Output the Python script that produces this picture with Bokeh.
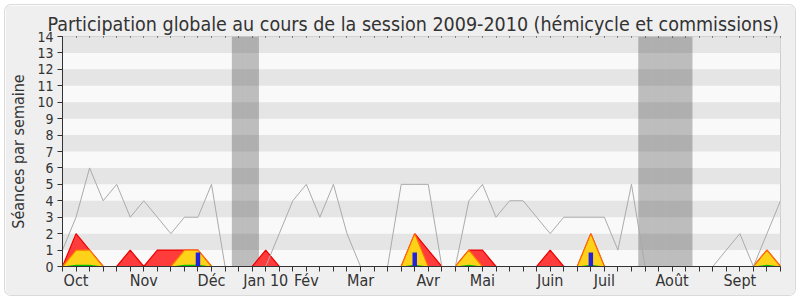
from bokeh.plotting import figure
from bokeh.models import FixedTicker, LinearAxis, BoxAnnotation, Range1d, ColumnDataSource
from bokeh.embed import file_html
from bokeh.resources import INLINE

# ---- data (one value per week, week 0 = end of Sept 2009) ----
weeks = list(range(54))
presences = [1, 3, 6, 4, 5, 3, 4, 3, 2, 3, 3, 5, 0, 0, 0, 0, 2, 4, 5, 3,
             5, 2, 0, 0, 0, 5, 5, 5, 0, 0, 4, 5, 3, 4, 4, 3, 2, 3, 3, 3,
             3, 1, 5, 0, 0, 0, 0, 0, 0, 1, 2, 0, 2, 4]
interventions = [0, 2, 1, 0, 0, 1, 0, 1, 1, 1, 1, 0, 0, 0, 0, 1, 0, 0, 0, 0,
                 0, 0, 0, 0, 0, 0, 2, 1, 0, 0, 1, 1, 0, 0, 0, 0, 1, 0, 0, 2,
                 0, 0, 0, 0, 0, 0, 0, 0, 0, 0, 0, 0, 1, 0]
hemicycle = [0, 1, 1, 0, 0, 0, 0, 0, 0, 1, 1, 0, 0, 0, 0, 0, 0, 0, 0, 0,
             0, 0, 0, 0, 0, 0, 2, 0, 0, 0, 1, 0, 0, 0, 0, 0, 0, 0, 0, 2,
             0, 0, 0, 0, 0, 0, 0, 0, 0, 0, 0, 0, 1, 0]
amendements = [0, 0.1, 0.1, 0, 0, 0, 0, 0, 0, 0.1, 0.1, 0, 0, 0, 0, 0, 0, 0, 0, 0,
               0, 0, 0, 0, 0, 0, 0.1, 0, 0, 0, 0.1, 0, 0, 0, 0, 0, 0, 0, 0, 0.1,
               0, 0, 0, 0, 0, 0, 0, 0, 0, 0, 0, 0, 0.1, 0]
question_weeks = [10, 26, 39]
question_values = [0.85, 0.85, 0.85]
vacances = [13, 14, 43, 44, 45, 46]
month_weeks = [1, 6, 11, 15, 18, 22, 27, 31, 36, 40, 45, 50]
month_labels = ["Oct", "Nov", "Déc", "Jan 10", "Fév", "Mar", "Avr", "Mai",
                "Juin", "Juil", "Août", "Sept"]

FONT = "DejaVu Sans Condensed"
TXT = "#333333"

p = figure(frame_width=718, frame_height=230, output_backend="svg",
           toolbar_location=None, x_range=Range1d(0, 53), y_range=Range1d(0, 14),
           min_border_left=57, min_border_right=15, min_border_top=31,
           min_border_bottom=29, background_fill_color="#f9f9f9",
           border_fill_color="#efefef", outline_line_color="#cccccc")
p.styles = {"margin-left": "5px", "margin-top": "5px", "border-radius": "6px",
            "overflow": "hidden", "box-shadow": "0 0 0 1px #dadada"}

p.title.text = "Participation globale au cours de la session 2009-2010 (hémicycle et commissions)"
p.title.text_font = FONT
p.title.text_font_size = "19.5px"
p.title.text_font_style = "normal"
p.title.text_color = TXT
p.title.align = "left"
p.title.offset = -15
p.title.standoff = 2

p.grid.visible = False

# striped background
for k in range(1, 14, 2):
    p.add_layout(BoxAnnotation(bottom=k, top=k + 1, fill_color="#e5e5e5",
                               fill_alpha=1, line_color=None, level="underlay"))

# holiday weeks
p.vbar(x=vacances, top=14, width=1, fill_color="#333333", fill_alpha=0.3,
       line_color=None)

src = ColumnDataSource(dict(w=weeks, pres=presences, inter=interventions,
                            hemi=hemicycle, amd=amendements))
p.varea(x="w", y1=0, y2="inter", source=src, fill_color="#ff3c3c")
p.line(x="w", y="inter", source=src, line_color="#ee0000", line_width=1.2)
p.varea(x="w", y1=0, y2="hemi", source=src, fill_color="#ffd21a")
p.line(x="w", y="hemi", source=src, line_color="#ff7000", line_width=1.2)
p.varea(x="w", y1=0, y2="amd", source=src, fill_color="#00c000")
p.vbar(x=question_weeks, top=question_values, width=0.33, fill_color="#2222dd",
       line_color=None)
p.line(x="w", y="pres", source=src, line_color="#aaaaaa", line_width=1)

# axes
xa = p.xaxis[0]
xa.ticker = FixedTicker(ticks=weeks)
xa.major_label_overrides = {w: "" for w in weeks}
xa.major_label_overrides.update({w: l for w, l in zip(month_weeks, month_labels)})
xa.major_label_text_font = FONT
xa.major_label_text_font_size = "16px"
xa.major_label_text_color = TXT
xa.major_tick_out = 5
xa.major_tick_in = 0
xa.minor_tick_out = 0
xa.minor_tick_in = 0
xa.major_label_standoff = -1
xa.axis_line_color = "#333333"
xa.major_tick_line_color = "#333333"

ya = p.yaxis[0]
ya.ticker = FixedTicker(ticks=list(range(15)))
ya.major_label_text_font = FONT
ya.major_label_text_font_size = "14px"
ya.major_label_text_color = TXT
ya.major_tick_out = 5
ya.major_tick_in = 0
ya.minor_tick_out = 0
ya.minor_tick_in = 0
ya.major_label_standoff = 4
ya.axis_line_color = "#333333"
ya.major_tick_line_color = "#333333"
ya.axis_label = "Séances par semaine"
ya.axis_label_text_font = FONT
ya.axis_label_text_font_size = "16px"
ya.axis_label_text_font_style = "normal"
ya.axis_label_text_color = TXT
ya.axis_label_standoff = 6

top = LinearAxis(ticker=FixedTicker(ticks=weeks), major_tick_in=2, major_tick_out=0,
                 minor_tick_in=0, minor_tick_out=0, axis_line_color=None,
                 major_label_text_font_size="0px", major_tick_line_color="#222222",
                 major_tick_line_dash="1 1")
top.major_label_overrides = {w: "" for w in weeks}
p.add_layout(top, "above")

open("out.html", "w").write(file_html(p, INLINE))
